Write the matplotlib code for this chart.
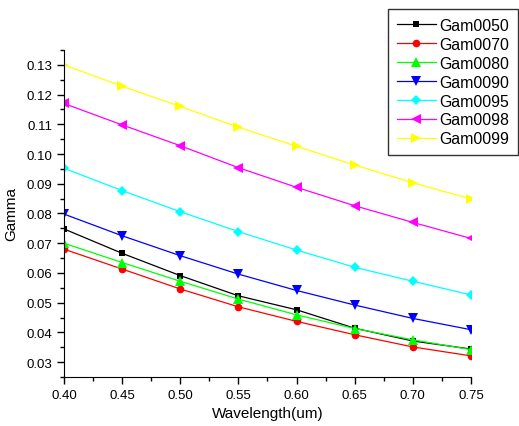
import numpy as np
import matplotlib

matplotlib.use('Agg')
import matplotlib.pyplot as plt
from matplotlib.ticker import MultipleLocator

plt.rcParams['font.family'] = ['Liberation Sans', 'DejaVu Sans']

wavelength = [0.40, 0.45, 0.50, 0.55, 0.60, 0.65, 0.70, 0.75]

gam0050 = [0.0748, 0.0666, 0.0591, 0.0523, 0.0476, 0.0414, 0.0371, 0.0344]
gam0070 = [0.0680, 0.0613, 0.0546, 0.0486, 0.0437, 0.0392, 0.0351, 0.0321]
gam0080 = [0.0700, 0.0635, 0.0572, 0.0512, 0.0459, 0.0413, 0.0375, 0.0342]
gam0090 = [0.0798, 0.0725, 0.0658, 0.0596, 0.0541, 0.0492, 0.0447, 0.0409]
gam0095 = [0.0952, 0.0877, 0.0806, 0.0739, 0.0677, 0.0619, 0.0572, 0.0526]
gam0098 = [0.1170, 0.1098, 0.1028, 0.0954, 0.0888, 0.0826, 0.0770, 0.0716]
gam0099 = [0.1300, 0.1228, 0.1160, 0.1090, 0.1026, 0.0963, 0.0903, 0.0849]

labels = ['Gam0050', 'Gam0070', 'Gam0080', 'Gam0090', 'Gam0095', 'Gam0098', 'Gam0099']
series = [gam0050, gam0070, gam0080, gam0090, gam0095, gam0098, gam0099]
colors = ['#000000', '#ff0000', '#00ff00', '#0000ff', '#00ffff', '#ff00ff', '#ffff00']
markers = ['s', 'o', '^', 'v', 'D', '<', '>']
msizes = [5, 5.5, 6.5, 6.5, 5.5, 6.5, 6.5]

fig = plt.figure(figsize=(5.19, 4.27), dpi=100)
ax = fig.add_axes([0.1233, 0.1148, 0.7842, 0.7658])

for vals, lab, c, m, ms in zip(series, labels, colors, markers, msizes):
  ax.plot(wavelength, vals, color=c, marker=m, markersize=ms, linewidth=0.9,
          markeredgewidth=0, label=lab)

ax.set_xlim(0.40, 0.75)
ax.set_ylim(0.025, 0.135)
ax.xaxis.set_major_locator(MultipleLocator(0.05))
ax.xaxis.set_minor_locator(MultipleLocator(0.025))
ax.yaxis.set_major_locator(MultipleLocator(0.01))
ax.yaxis.set_minor_locator(MultipleLocator(0.005))
ax.xaxis.set_major_formatter(matplotlib.ticker.FormatStrFormatter('%.2f'))
ax.yaxis.set_major_formatter(matplotlib.ticker.FormatStrFormatter('%.2f'))
ax.spines['top'].set_visible(False)
ax.spines['right'].set_visible(False)
ax.tick_params(which='major', direction='out', length=5, width=1, labelsize=9.5)
ax.tick_params(which='minor', direction='out', length=3, width=1)
ax.set_xlabel('Wavelength(um)', fontsize=11, labelpad=4)
ax.set_ylabel('Gamma', fontsize=11, labelpad=6)

leg = ax.legend(loc='upper right', bbox_to_anchor=(518 / 519., 1 - 10 / 427.),
                bbox_transform=fig.transFigure, fontsize=11.4, frameon=True,
                fancybox=False, edgecolor='black', handlelength=2.5,
                labelspacing=0.25, borderaxespad=0, borderpad=0.55,
                handletextpad=0.2)
leg.get_frame().set_linewidth(1)

plt.savefig('out.png', dpi=100)
